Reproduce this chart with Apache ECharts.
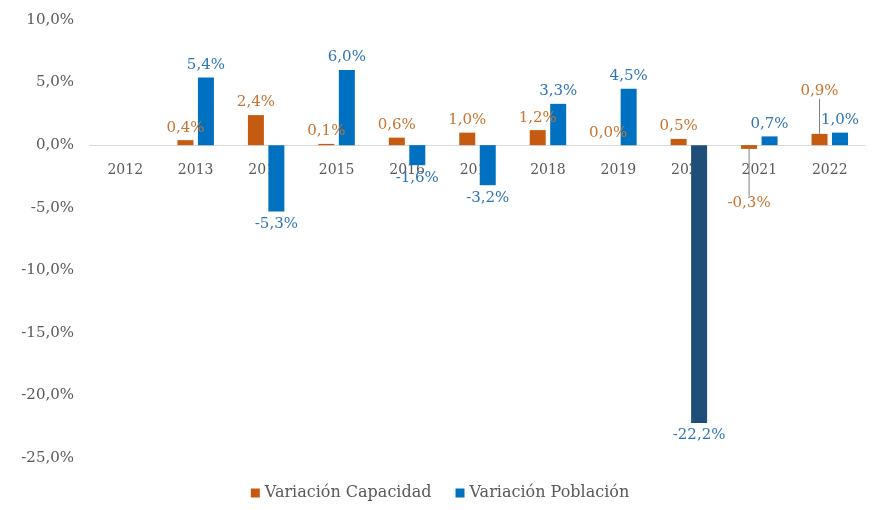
<!DOCTYPE html>
<html>
<head>
<meta charset="utf-8">
<script src="https://cdn.jsdelivr.net/npm/echarts@6/dist/echarts.min.js"></script>
<style>
  html, body { margin: 0; padding: 0; background: #fff; }
  #chart { width: 880px; height: 510px; }
</style>
</head>
<body>
<div id="chart"></div>
<script>
// datos
const years = ['2012','2013','2014','2015','2016','2017','2018','2019','2020','2021','2022'];
const capacidad = [null, 0.4, 2.4, 0.1, 0.6, 1.0, 1.2, 0.0, 0.5, -0.3, 0.9];
const poblacion = [null, 5.4, -5.3, 6.0, -1.6, -3.2, 3.3, 4.5, -22.2, 0.7, 1.0];

const font = 'DejaVu Serif';
const fmt = v => v.toFixed(1).replace('.', ',') + '%';

let chart = echarts.init(document.getElementById('chart'));

let capData = capacidad.map((v, i) => {
  if (years[i] === '2021' || years[i] === '2022') {
    return { value: v, labelLine: { show: true, lineStyle: { color: '#7f7f7f', width: 1 } } };
  }
  if (v === 0) return { value: v, label: { position: 'top' } };
  return v;
});

let pobData = poblacion.map((v, i) => {
  if (years[i] === '2020') return { value: v, itemStyle: { color: '#1F4E79' } };
  return v;
});

let option = {
  animation: false,
  grid: { left: 90, right: 15, top: 20, bottom: 52 },
  legend: {
    bottom: 4,
    left: 'center',
    itemWidth: 9,
    itemHeight: 9,
    itemGap: 24,
    icon: 'rect',
    textStyle: { fontFamily: font, fontSize: 16, color: '#595959' },
    data: ['Variación Capacidad', 'Variación Población']
  },
  xAxis: {
    type: 'category',
    data: years,
    offset: -312.5,
    axisLine: { onZero: false, lineStyle: { color: '#D9D9D9' } },
    axisTick: { show: false },
    axisLabel: { fontFamily: font, fontSize: 14, color: '#595959', margin: 18 }
  },
  yAxis: {
    type: 'value',
    min: -25,
    max: 10,
    interval: 5,
    splitLine: { show: false },
    axisLine: { show: false },
    axisTick: { show: false },
    axisLabel: { fontFamily: font, fontSize: 15, color: '#595959', margin: 16, formatter: v => fmt(v) }
  },
  series: [
    {
      name: 'Variación Capacidad',
      type: 'bar',
      data: capData,
      barWidth: 16,
      barGap: '28%',
      itemStyle: { color: '#C55A11' },
      label: {
        show: true,
        position: 'outside',
        fontFamily: font,
        fontSize: 15,
        color: '#C8732F',
        formatter: p => p.value == null ? '' : fmt(p.value)
      },
      labelLayout: p => {
        if (p.dataIndex === 9) return { dy: 42 };
        if (p.dataIndex === 10) return { dy: -30 };
        return {};
      }
    },
    {
      name: 'Variación Población',
      type: 'bar',
      data: pobData,
      barWidth: 16,
      itemStyle: { color: '#0070C0' },
      label: {
        show: true,
        position: 'outside',
        fontFamily: font,
        fontSize: 15,
        color: '#2E75B6',
        formatter: p => p.value == null ? '' : fmt(p.value)
      }
    }
  ]
};

option && chart.setOption(option);
</script>
</body>
</html>
